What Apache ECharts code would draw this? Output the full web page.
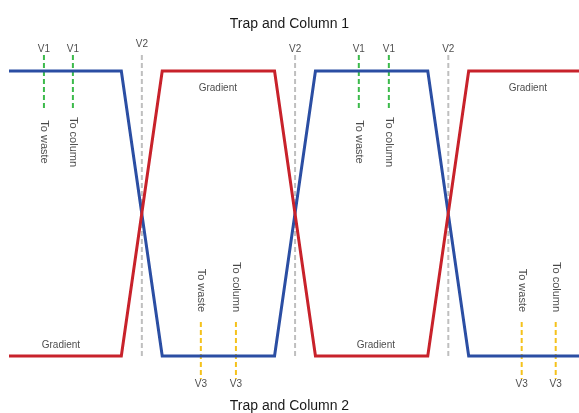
<!DOCTYPE html>
<html>
<head>
<meta charset="utf-8">
<script src="https://cdn.jsdelivr.net/npm/echarts@6/dist/echarts.min.js"></script>
<style>html,body{margin:0;padding:0;background:#fff}#c{width:579px;height:413px}</style>
</head>
<body>
<div id="c"></div>
<script>
// ---- data ----
const stepX = [0, 7.33, 10, 17.33, 20, 27.33, 30, 37.2];
const blueY = [1, 1, 0, 0, 1, 1, 0, 0];
const redY  = [0, 0, 1, 1, 0, 0, 1, 1];

const v1X = [2.28, 4.17, 22.83, 24.79];
const v1Text = ["To waste", "To column", "To waste", "To column"];
const v2X = [8.67, 18.67, 28.67];
const v3X = [12.52, 14.81, 33.46, 35.68];
const v3Text = ["To waste", "To column", "To waste", "To column"];

const v1Range = [1.056, 0.86];
const v2Range = [1.056, -0.01];
const v3Range = [0.119, -0.081];
const v1TextY = 0.751;
const v3TextY = 0.154;

const gradientX = [13.63, 33.86, 3.39, 23.94];
const gradientY = [0.94, 0.94, 0.0386, 0.0386];

const titles = ["Trap and Column 1", "Trap and Column 2"];

// ---- chart ----
const FONT = "'Liberation Sans Narrow','Arial Narrow','Liberation Sans',Arial,sans-serif";
const TXT = '#1a1a1a';
const chart = echarts.init(document.getElementById('c'), null, {renderer: 'canvas'});

function vline(x, range, color) {
  return {
    type: 'line', data: [[x, range[0]], [x, range[1]]], symbol: 'none', silent: true,
    lineStyle: {color: color, width: 2, type: [5, 3]}, z: 1
  };
}
function textSeries(items) {
  return {type: 'scatter', symbolSize: 0, silent: true, data: items, z: 5};
}

const series = [];
v1X.forEach(x => series.push(vline(x, v1Range, '#3cba4b')));
v2X.forEach(x => series.push(vline(x, v2Range, '#bfbfbf')));
v3X.forEach(x => series.push(vline(x, v3Range, '#f5c21b')));

series.push({type: 'line', data: stepX.map((x, i) => [x, blueY[i]]), symbol: 'none', silent: true,
  lineStyle: {color: '#2b4ea3', width: 3, join: 'miter'}, z: 3});
series.push({type: 'line', data: stepX.map((x, i) => [x, redY[i]]), symbol: 'none', silent: true,
  lineStyle: {color: '#c8222b', width: 3, join: 'miter'}, z: 3});

const baseLabel = {show: true, color: TXT, fontFamily: FONT, formatter: p => p.name};

const items = [];
v1X.forEach(x => items.push({name: 'V1', value: [x, v1Range[0]],
  label: Object.assign({}, baseLabel, {position: 'top', distance: 1, fontSize: 10})}));
v2X.forEach((x, i) => items.push({name: 'V2', value: [x, v2Range[0]],
  label: Object.assign({}, baseLabel, {position: 'top', distance: i === 0 ? 6 : 1, fontSize: 10})}));
v3X.forEach(x => items.push({name: 'V3', value: [x, v3Range[1]],
  label: Object.assign({}, baseLabel, {position: 'bottom', distance: 0, fontSize: 10})}));
v1X.forEach((x, i) => items.push({name: v1Text[i], value: [x, v1TextY],
  label: Object.assign({}, baseLabel, {position: 'inside', rotate: -90, align: 'center', verticalAlign: 'middle', fontSize: 11})}));
v3X.forEach((x, i) => items.push({name: v3Text[i], value: [x, v3TextY],
  label: Object.assign({}, baseLabel, {position: 'inside', rotate: -90, align: 'right', verticalAlign: 'middle', fontSize: 11})}));
gradientX.forEach((x, i) => items.push({name: 'Gradient', value: [x, gradientY[i]],
  label: Object.assign({}, baseLabel, {position: 'inside', align: 'center', verticalAlign: 'middle', fontSize: 10})}));
series.push(textSeries(items));

chart.setOption({
  animation: false,
  backgroundColor: '#fff',
  title: [
    {text: titles[0], left: 'center', top: 12, textStyle: {fontSize: 14, fontWeight: 'normal', color: TXT, fontFamily: FONT}},
    {text: titles[1], left: 'center', top: 394, textStyle: {fontSize: 14, fontWeight: 'normal', color: TXT, fontFamily: FONT}}
  ],
  grid: {left: 9, right: 0, top: 14, bottom: 0, containLabel: false},
  xAxis: {type: 'value', min: 0, max: 37.2, show: false},
  yAxis: {type: 'value', min: -0.2, max: 1.2, show: false},
  series: series
});
</script>
</body>
</html>
